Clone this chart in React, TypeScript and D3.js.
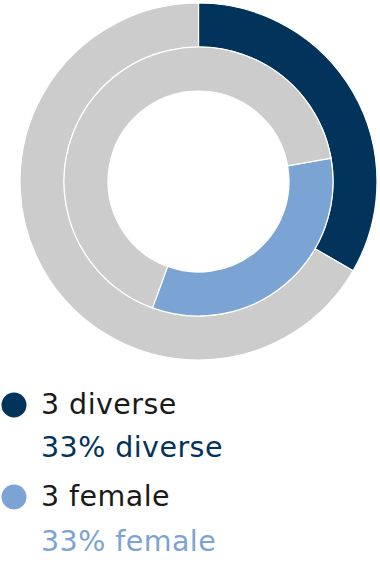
import React from "react";
import * as d3 from "d3";

const outerLabels = ["diverse", "other"];
const outerValues = [3, 6];
const innerLabels = ["female", "other"];
const innerValues = [3, 6];
const innerOffsetShare = 2 / 9; // inner ring starts after 2 of 9 seats
const legendCounts = ["3 diverse", "3 female"];
const legendShares = ["33% diverse", "33% female"];

const NAVY = "#02335a";
const LIGHT = "#7ba4d4";
const GRAY = "#cccccc";

export default function App() {
  const W = 380, H = 563;
  const cx = 198.5, cy = 181.5;
  const outerPie = d3.pie<number>().sort(null).value((d) => d);
  const innerStart = innerOffsetShare * 2 * Math.PI;
  const innerPie = d3
    .pie<number>()
    .sort(null)
    .value((d) => d)
    .startAngle(innerStart)
    .endAngle(innerStart + 2 * Math.PI);
  const outerArc = d3.arc<d3.PieArcDatum<number>>().innerRadius(134.5).outerRadius(178.5);
  const innerArc = d3.arc<d3.PieArcDatum<number>>().innerRadius(90.5).outerRadius(134.5);
  const outerColors = [NAVY, GRAY];
  const innerColors = [LIGHT, GRAY];
  const legendColors = [NAVY, LIGHT];
  const groupY = [405, 497];
  const font = "'DejaVu Sans', sans-serif";

  return (
    <svg width={W} height={H} style={{ position: "absolute", left: 0, top: 0 }}>
      <g transform={`translate(${cx},${cy})`}>
        {outerPie(outerValues).map((a, i) => (
          <path key={"o" + outerLabels[i]} d={outerArc(a) || ""} fill={outerColors[i]} stroke="#fff" strokeWidth={1.2} />
        ))}
        {innerPie(innerValues).map((a, i) => (
          <path key={"i" + innerLabels[i]} d={innerArc(a) || ""} fill={innerColors[i]} stroke="#fff" strokeWidth={1.2} />
        ))}
      </g>
      {legendCounts.map((t, i) => (
        <g key={t}>
          <circle cx={14} cy={groupY[i]} r={12.5} fill={legendColors[i]} />
          <text x={41} y={groupY[i] + 9} fontFamily={font} fontSize={28.5} letterSpacing={0.45} fill="#1a1a1a">
            {t}
          </text>
          <text x={41} y={groupY[i] + 51.5 + i * 2} fontFamily={font} fontSize={28.5} letterSpacing={0.45} fill={legendColors[i]}>
            {legendShares[i]}
          </text>
        </g>
      ))}
    </svg>
  );
}
